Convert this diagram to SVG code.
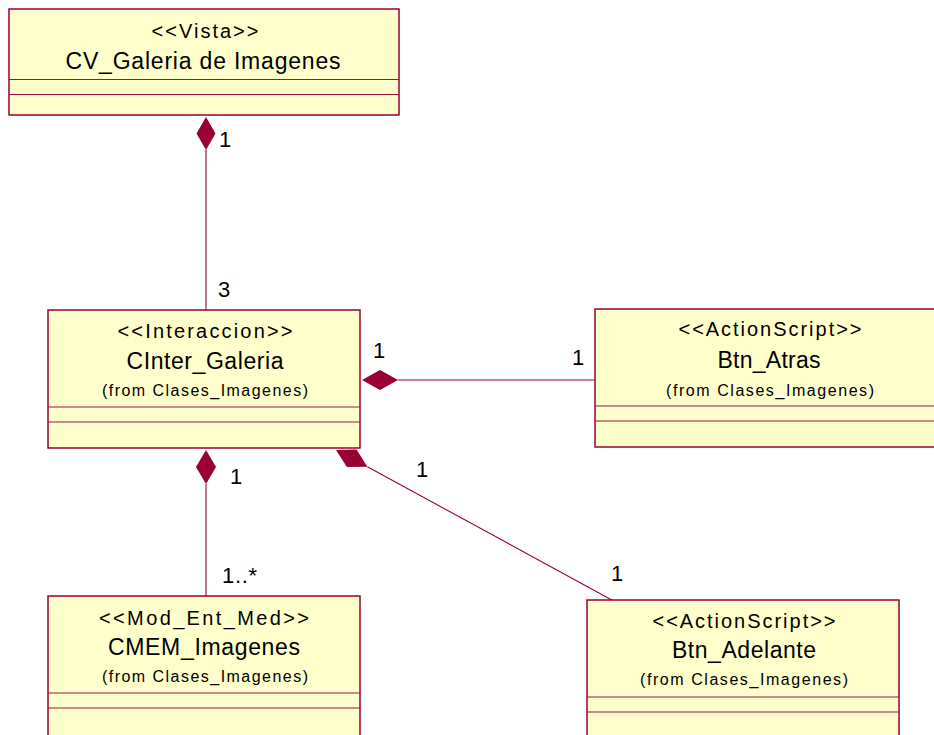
<svg xmlns="http://www.w3.org/2000/svg" width="934" height="735" viewBox="0 0 934 735">
  <style>
    .box { fill: #FFFFCC; stroke: #990033; stroke-width: 1.5; }
    .sep { stroke: #A3123F; stroke-width: 1.2; fill: none; }
    .link { stroke: #990033; stroke-width: 1.1; fill: none; }
    .comp { fill: #990033; stroke: none; }
    text { font-family: "Liberation Sans", Arial, sans-serif; fill: #000; text-anchor: middle; }
    .st { font-size: 20px; }
    .nm { font-size: 23px; }
    .fr { font-size: 16px; }
    .mult { font-size: 22px; text-anchor: start; }
  </style>

  <rect width="934" height="735" fill="#FFFFFF"/>

  <!-- associations with composition diamonds -->
  <g id="connectors">
    <line class="link" x1="206" y1="150" x2="206" y2="310"/>
    <polygon class="comp" points="206,117 215.5,133.5 206,150 196.5,133.5"/>

    <line class="link" x1="398" y1="380" x2="595" y2="380"/>
    <polygon class="comp" points="362,380 380,370 398,380 380,390"/>

    <line class="link" x1="206" y1="484" x2="206" y2="596"/>
    <polygon class="comp" points="206,450 216,467 206,484 196,467"/>

    <line class="link" x1="367.4" y1="466.7" x2="612.7" y2="600.5"/>
    <polygon class="comp" points="336,450 356.5,449.5 367.4,466.7 346.9,467.1"/>

    <text class="mult" x="219" y="147">1</text>
    <text class="mult" x="218" y="297">3</text>
    <text class="mult" x="373" y="358">1</text>
    <text class="mult" x="572" y="365">1</text>
    <text class="mult" x="230" y="484">1</text>
    <text class="mult" x="222" y="583" textLength="35" lengthAdjust="spacing">1..*</text>
    <text class="mult" x="416" y="477">1</text>
    <text class="mult" x="611" y="581">1</text>
  </g>

  <g id="CV_Galeria_de_Imagenes">
    <rect class="box" x="9" y="9" width="390" height="106"/>
    <line class="sep" x1="9" y1="79.5" x2="399" y2="79.5"/>
    <line class="sep" x1="9" y1="94.5" x2="399" y2="94.5"/>
    <text class="st" x="205" y="37.5" textLength="107" lengthAdjust="spacing">&lt;&lt;Vista&gt;&gt;</text>
    <text class="nm" x="203" y="69" textLength="275" lengthAdjust="spacing">CV_Galeria de Imagenes</text>
  </g>

  <g id="CInter_Galeria">
    <rect class="box" x="48" y="310" width="312" height="138"/>
    <line class="sep" x1="48" y1="407" x2="360" y2="407"/>
    <line class="sep" x1="48" y1="422" x2="360" y2="422"/>
    <text class="st" x="205" y="338" textLength="175" lengthAdjust="spacing">&lt;&lt;Interaccion&gt;&gt;</text>
    <text class="nm" x="205" y="369" textLength="157" lengthAdjust="spacing">CInter_Galeria</text>
    <text class="fr" x="205" y="396" textLength="206" lengthAdjust="spacing">(from Clases_Imagenes)</text>
  </g>

  <g id="Btn_Atras">
    <rect class="box" x="595" y="309" width="355" height="138"/>
    <line class="sep" x1="595" y1="406" x2="950" y2="406"/>
    <line class="sep" x1="595" y1="421" x2="950" y2="421"/>
    <text class="st" x="770" y="336" textLength="183" lengthAdjust="spacing">&lt;&lt;ActionScript&gt;&gt;</text>
    <text class="nm" x="769" y="368" textLength="103" lengthAdjust="spacing">Btn_Atras</text>
    <text class="fr" x="770" y="396" textLength="208" lengthAdjust="spacing">(from Clases_Imagenes)</text>
  </g>

  <g id="CMEM_Imagenes">
    <rect class="box" x="48" y="596" width="312" height="150"/>
    <line class="sep" x1="48" y1="693" x2="360" y2="693"/>
    <line class="sep" x1="48" y1="708" x2="360" y2="708"/>
    <text class="st" x="204" y="625" textLength="210" lengthAdjust="spacing">&lt;&lt;Mod_Ent_Med&gt;&gt;</text>
    <text class="nm" x="204" y="655" textLength="192" lengthAdjust="spacing">CMEM_Imagenes</text>
    <text class="fr" x="205" y="682" textLength="206" lengthAdjust="spacing">(from Clases_Imagenes)</text>
  </g>

  <g id="Btn_Adelante">
    <rect class="box" x="587" y="600" width="312" height="150"/>
    <line class="sep" x1="587" y1="697" x2="899" y2="697"/>
    <line class="sep" x1="587" y1="712" x2="899" y2="712"/>
    <text class="st" x="744" y="628" textLength="183" lengthAdjust="spacing">&lt;&lt;ActionScript&gt;&gt;</text>
    <text class="nm" x="744" y="658" textLength="144" lengthAdjust="spacing">Btn_Adelante</text>
    <text class="fr" x="744" y="685" textLength="208" lengthAdjust="spacing">(from Clases_Imagenes)</text>
  </g>
</svg>
